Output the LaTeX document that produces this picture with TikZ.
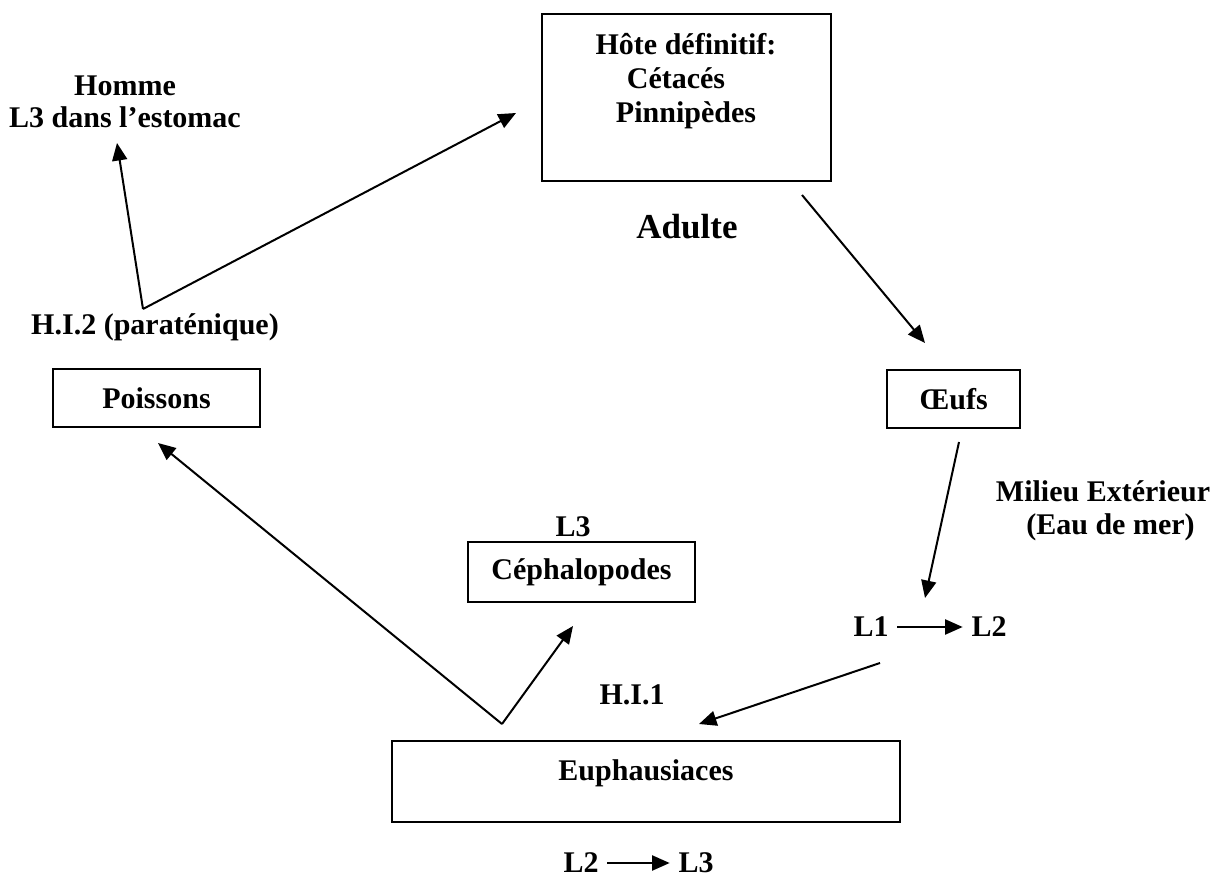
\documentclass[tikz,border=0pt]{standalone}
\usepackage{fontspec}
\setmainfont{Liberation Serif}
\usetikzlibrary{arrows.meta,positioning}

\tikzset{
  boite/.style={draw,line width=0.9pt,inner sep=0pt,font=\bfseries\fontsize{12}{13}\selectfont},
  lbl/.style={font=\bfseries\fontsize{12}{13}\selectfont,align=center},
  fleche/.style={-{Triangle[length=7pt,width=6pt]},line width=0.8pt},
}

\begin{document}
\begin{tikzpicture}[x=0.4pt,y=-0.4pt]
\useasboundingbox (0,0) rectangle (1211,877);

% hote definitif
\node[boite,minimum width=115.6pt,minimum height=66.8pt] (hote) at (686.5,97.5) {};
\node[lbl,anchor=north,inner sep=0pt,font=\bfseries\fontsize{12}{13.5}\selectfont] (hotetxt) at (686,33) {Hôte définitif:\\\mbox{Cétacés\hspace{8pt}}\\Pinnipèdes};
\node[lbl,font=\bfseries\fontsize{14}{16}\selectfont] (adulte) at (687,227) {Adulte};

% oeufs et milieu exterieur
\node[boite,minimum width=53.2pt,minimum height=23.2pt] (oeufs) at (953.5,399) {Œufs};
\node[lbl] (milieu) at (1103,511) {Milieu Extérieur\\\ \ (Eau de mer)};
\node[lbl] (l1) at (871,627) {L1};
\node[lbl] (l2) at (989,627) {L2};

% euphausiaces
\node[boite,minimum width=203.2pt,minimum height=32.4pt] (euph) at (646,781.5) {};
\node[lbl] (euphtxt) at (646,773) {Euphausiaces};
\node[lbl] (hi1) at (632,695) {H.I.1};
\node[lbl] (l2b) at (581,863) {L2};
\node[lbl] (l3b) at (696,863) {L3};

% cephalopodes
\node[lbl] (l3c) at (573,527) {L3};
\node[boite,minimum width=90.8pt,minimum height=24pt] (ceph) at (581.5,572) {Céphalopodes};

% poissons et homme
\node[boite,minimum width=82.8pt,minimum height=23.2pt] (poissons) at (156.5,398) {Poissons};
\node[lbl] (hi2) at (155,327) {H.I.2 (paraténique)};
\node[lbl] (homme) at (125,102) {Homme\\L3 dans l’estomac};

% bouts des fleches
\coordinate (hi2top) at (143,309);
\coordinate (euphtop) at (502,724);
\coordinate (vershomme) at (117,143);
\coordinate (vershote) at (516,113);
\coordinate (hotebas) at (802,195);
\coordinate (versoeufs) at (925,343);
\coordinate (oeufsbas) at (959,442);
\coordinate (versl1) at (925,598);
\coordinate (l1bas) at (880,663);
\coordinate (verseuph) at (699,724);
\coordinate (versceph) at (573,626);
\coordinate (verspoissons) at (158,443);

\draw[fleche] (hi2top) -- (vershomme);
\draw[fleche] (hi2top) -- (vershote);
\draw[fleche] (hotebas) -- (versoeufs);
\draw[fleche] (oeufsbas) -- (versl1);
\draw[fleche] (l1bas) -- (verseuph);
\draw[fleche] (euphtop) -- (versceph);
\draw[fleche] (euphtop) -- (verspoissons);
\draw[fleche] (l1) -- (l2);
\draw[fleche] (l2b) -- (l3b);
\end{tikzpicture}
\end{document}
